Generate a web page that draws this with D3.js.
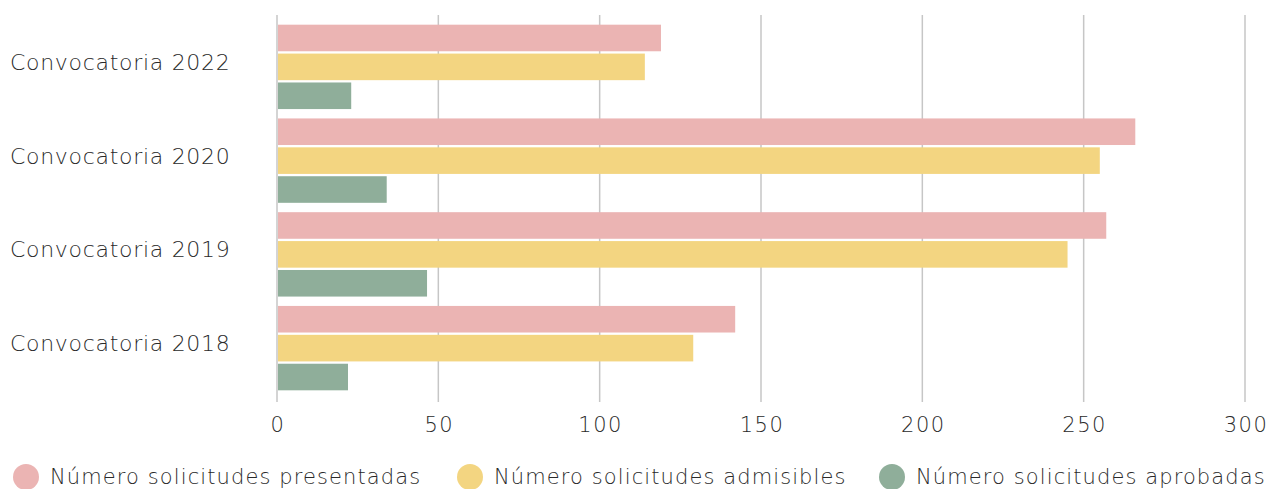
<!DOCTYPE html>
<html>
<head>
<meta charset="utf-8">
<script src="https://cdn.jsdelivr.net/npm/d3@7"></script>
<style>
  body { margin: 0; background: #fff; }
  svg text { font-family: "DejaVu Sans", sans-serif; font-weight: 200; fill: #2a2a2a; }
</style>
</head>
<body>
<svg id="chart" width="1271" height="489"></svg>
<script>
// data
var categories = ["Convocatoria 2022", "Convocatoria 2020", "Convocatoria 2019", "Convocatoria 2018"];
var seriesNames = ["Número solicitudes presentadas", "Número solicitudes admisibles", "Número solicitudes aprobadas"];
var presentadas = [119, 266, 257, 142];
var admisibles = [114, 255, 245, 129];
var aprobadas = [23, 34, 46.5, 22];
var xTicks = [0, 50, 100, 150, 200, 250, 300];
var colors = ["#ebb4b3", "#f3d581", "#8fae9a"];

var values = [presentadas, admisibles, aprobadas];

var svg = d3.select("#chart");

var x = d3.scaleLinear().domain([0, 300]).range([277, 1245]);
var y = d3.scaleBand().domain(categories).range([20, 395])
  .paddingInner(0.1).paddingOuter(0.05);
var ySub = d3.scaleBand().domain(seriesNames).range([0, y.bandwidth()])
  .paddingInner(0.08);

// grid lines
svg.append("g").selectAll("line")
  .data(xTicks)
  .join("line")
  .attr("x1", d => x(d)).attr("x2", d => x(d))
  .attr("y1", 15).attr("y2", 402)
  .attr("stroke", "#c6c6c6")
  .attr("stroke-width", 1.5);

// bars
var groups = svg.append("g").selectAll("g")
  .data(categories)
  .join("g")
  .attr("transform", d => "translate(0," + y(d) + ")");

groups.selectAll("rect")
  .data((c, i) => seriesNames.map((s, j) => ({ s: s, v: values[j][i], j: j })))
  .join("rect")
  .attr("x", x(0) + 1)
  .attr("y", d => ySub(d.s))
  .attr("width", d => x(d.v) - x(0) - 1)
  .attr("height", ySub.bandwidth())
  .attr("fill", d => colors[d.j]);

// category labels
svg.append("g").selectAll("text")
  .data(categories)
  .join("text")
  .attr("x", 10)
  .attr("y", d => y(d) + y.bandwidth() / 2 + 3)
  .style("font-size", "22px")
  .style("letter-spacing", "0.7px")
  .text(d => d);

// x tick labels
svg.append("g").selectAll("text")
  .data(xTicks)
  .join("text")
  .attr("x", d => x(d) + 1)
  .attr("y", 432)
  .attr("text-anchor", "middle")
  .style("font-size", "21px")
  .style("letter-spacing", "1.5px")
  .text(d => d);

// legend
var legendX = [26, 470, 892];
var legend = svg.append("g").selectAll("g")
  .data(seriesNames)
  .join("g")
  .attr("transform", (d, i) => "translate(" + legendX[i] + ",477)");

legend.append("circle")
  .attr("r", 13)
  .attr("fill", (d, i) => colors[i]);

legend.append("text")
  .attr("x", 24)
  .attr("y", 7)
  .style("font-size", "21px")
  .style("letter-spacing", "1.1px")
  .text(d => d);
</script>
</body>
</html>
